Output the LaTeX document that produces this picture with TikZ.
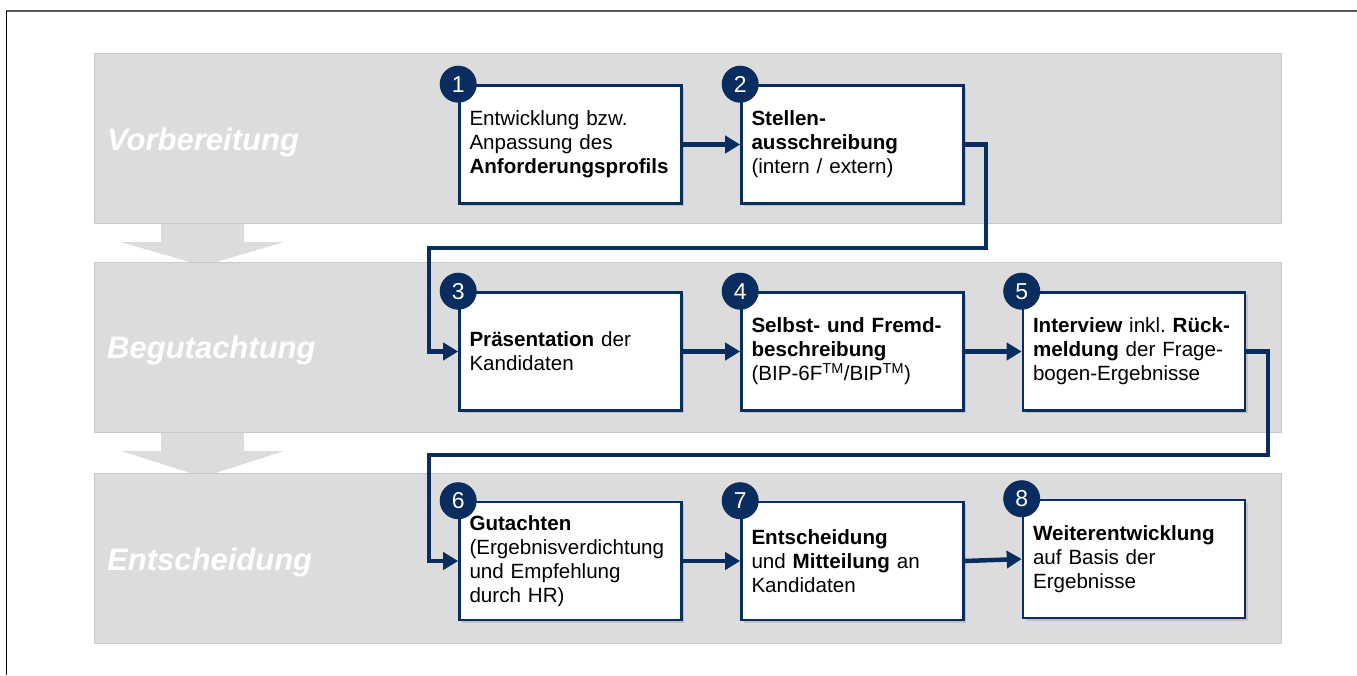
\documentclass[tikz,border=0pt]{standalone}
\usepackage{fontspec}
\setmainfont{Liberation Sans}
\usetikzlibrary{arrows.meta,shadows}
\definecolor{navy}{RGB}{8,45,94}
\definecolor{bandgray}{RGB}{220,220,220}
\definecolor{bandline}{RGB}{200,200,200}
\frenchspacing
\begin{document}
\begin{tikzpicture}[x=1pt,y=-1pt,
 band/.style={fill=bandgray,draw=bandline,line width=0.8pt},
 bandarrow/.style={fill=bandgray},
 bandlabel/.style={anchor=base west,text=white,font=\fontsize{31}{36}\selectfont\bfseries\itshape,inner sep=0pt},
 stepbox/.style={draw=navy,line width=2.6pt,fill=white,minimum width=222pt,minimum height=118pt,inner sep=0pt,text width=202pt,align=left,font=\fontsize{20.6}{24}\selectfont,drop shadow={shadow xshift=2.5pt,shadow yshift=-2.5pt,opacity=0.3}},
 num/.style={circle,fill=navy,minimum size=37pt,inner sep=0pt,text=white,font=\fontsize{23}{23}\selectfont},
 conn/.style={draw=navy,line width=4.5pt,-{Triangle[length=15pt,width=17pt]},line join=miter},
]
\useasboundingbox (0,0) rectangle (1357,675);
% frame
\draw[line width=1.6pt,black!65] (6,11) -- (1357,11);
\draw[line width=1.3pt,black] (6.5,11) -- (6.5,675);
% band arrows
\fill[bandarrow] (161,222) -- (244,222) -- (244,242) -- (284,242) -- (203,266) -- (121,242) -- (161,242) -- cycle;
\fill[bandarrow] (161,431) -- (244,431) -- (244,451) -- (284,451) -- (203,477) -- (121,451) -- (161,451) -- cycle;
% bands
\path[band] (94,53) rectangle (1281,223);
\path[band] (94,262) rectangle (1281,432);
\path[band] (94,473) rectangle (1281,643);
\node[bandlabel] (l1) at (107,150) {Vorbereitung};
\node[bandlabel] (l2) at (107,358) {Begutachtung};
\node[bandlabel] (l3) at (107,570) {Entscheidung};
% boxes
\node[stepbox] (b1) at (570.5,144.5) {Entwicklung bzw.\\Anpassung des\\\textbf{Anforderungsprofils}};
\node[stepbox] (b2) at (852.5,144.5) {\textbf{Stellen-}\\\textbf{ausschreibung}\\(intern / extern)};
\node[stepbox] (b3) at (570.5,351.5) {\textbf{Präsentation} der\\Kandidaten};
\node[stepbox] (b4) at (852.5,351.5) {\textbf{Selbst- und Fremd-}\\\textbf{beschreibung}\\(BIP-6F\textsuperscript{TM}/BIP\textsuperscript{TM})};
\node[stepbox] (b5) at (1134,351.5) {\textbf{Interview} inkl. \textbf{Rück-}\\\textbf{meldung} der Frage-\\bogen-Ergebnisse};
\node[stepbox] (b6) at (570.5,561) {\textbf{Gutachten}\\(Ergebnisverdichtung\\und Empfehlung\\durch HR)};
\node[stepbox] (b7) at (852.5,561) {\textbf{Entscheidung}\\und \textbf{Mitteilung} an\\Kandidaten};
\node[stepbox] (b8) at (1134,559) {\textbf{Weiterentwicklung}\\auf Basis der\\Ergebnisse};
% number badges
\node[num] (n1) at (b1.north west) {1};
\node[num] (n2) at (b2.north west) {2};
\node[num] (n3) at (b3.north west) {3};
\node[num] (n4) at (b4.north west) {4};
\node[num] (n5) at (b5.north west) {5};
\node[num] (n6) at (b6.north west) {6};
\node[num] (n7) at (b7.north west) {7};
\node[num] (n8) at (b8.north west) {8};
% connectors
\coordinate (k1) at (986,248);
\coordinate (k2) at (429,248);
\coordinate (k3) at (1268,455);
\coordinate (k4) at (429,455);
\draw[conn] (b1.east) -- (b2.west);
\draw[conn] (b2.east) -| (k1) -- (k2) |- (b3.west);
\draw[conn] (b3.east) -- (b4.west);
\draw[conn] (b4.east) -- (b5.west);
\draw[conn] (b5.east) -| (k3) -- (k4) |- (b6.west);
\draw[conn] (b6.east) -- (b7.west);
\draw[conn] (b7.east) -- (b8.west);
\end{tikzpicture}
\end{document}
